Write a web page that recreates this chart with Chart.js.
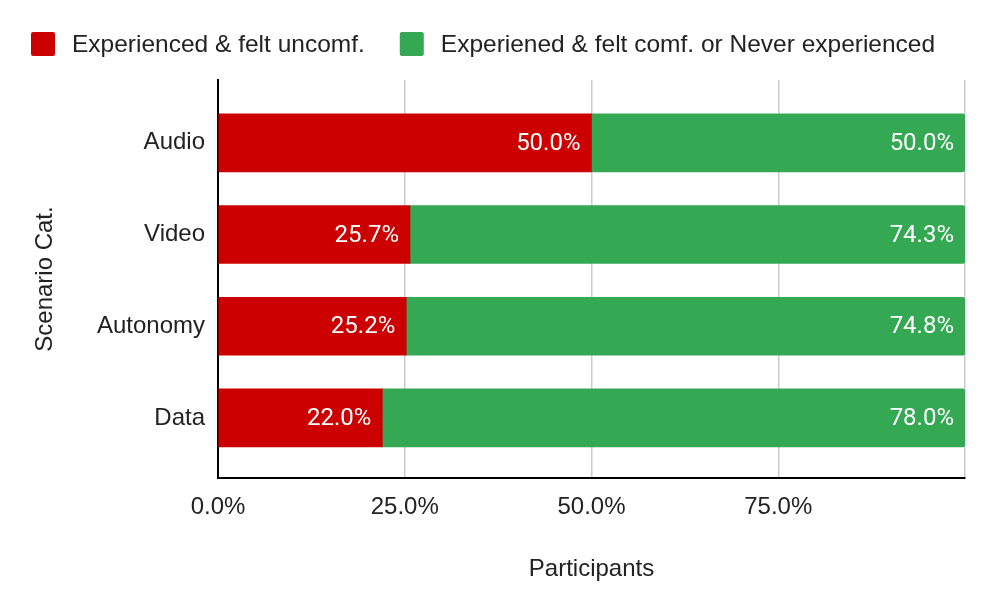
<!DOCTYPE html>
<html>
<head>
<meta charset="utf-8">
<script src="https://cdn.jsdelivr.net/npm/chart.js@4.4.1/dist/chart.umd.min.js"></script>
<style>
  html, body { margin: 0; padding: 0; background: #fff; }
  #wrap { width: 997px; height: 615px; position: relative; }
</style>
</head>
<body>
<div id="wrap"><canvas id="chart"></canvas></div>
<script>
// data
const categories = ['Audio', 'Video', 'Autonomy', 'Data'];
const uncomfValues = [50.0, 25.7, 25.2, 22.0];
const comfValues = [50.0, 74.3, 74.8, 78.0];
const seriesNames = ['Experienced & felt uncomf.', 'Experiened & felt comf. or Never experienced'];
const xTicks = [0, 25, 50, 75, 100];

const RED = '#cc0000';
const GREEN = '#34a853';
const TEXT = '#222222';

Chart.defaults.font.family = "'Liberation Sans', Arial, sans-serif";
Chart.defaults.font.size = 24;
Chart.defaults.color = TEXT;

// white value labels at the end of each bar segment
const barLabels = {
    id: 'barLabels',
    afterDatasetsDraw(chart) {
        const ctx = chart.ctx;
        ctx.save();
        ctx.font = "24px Roboto, 'Liberation Sans', sans-serif";
        ctx.fillStyle = '#ffffff';
        ctx.textAlign = 'right';
        ctx.textBaseline = 'middle';
        chart.data.datasets.forEach((ds, i) => {
            chart.getDatasetMeta(i).data.forEach((bar, j) => {
                ctx.fillText(ds.data[j].x.toFixed(1) + '%', bar.x - 11, bar.y + 1);
            });
        });
        ctx.restore();
    }
};

// legend drawn top-left like the sheets chart
const topLegend = {
    id: 'topLegend',
    afterDraw(chart) {
        const ctx = chart.ctx;
        ctx.save();
        ctx.font = "24.5px 'Liberation Sans', Arial, sans-serif";
        ctx.textBaseline = 'middle';
        ctx.textAlign = 'left';
        let x = 31;
        chart.data.datasets.forEach((ds) => {
            ctx.fillStyle = ds.backgroundColor;
            ctx.beginPath();
            ctx.roundRect(x, 32, 24, 24, 2);
            ctx.fill();
            ctx.fillStyle = TEXT;
            ctx.fillText(ds.label, x + 41, 45);
            x += 41 + ctx.measureText(ds.label).width + 35;
        });
        ctx.restore();
    }
};

new Chart(document.getElementById('chart'), {
    type: 'bar',
    data: {
        datasets: [
            {
                label: seriesNames[0],
                data: uncomfValues.map((v, i) => ({ x: v, y: i })),
                backgroundColor: RED,
                borderWidth: 0,
                barThickness: 58,
            },
            {
                label: seriesNames[1],
                data: comfValues.map((v, i) => ({ x: v, y: i })),
                backgroundColor: GREEN,
                borderWidth: 0,
                borderRadius: { topRight: 3, bottomRight: 3 },
                borderSkipped: false,
                barThickness: 58,
            },
        ],
    },
    options: {
        indexAxis: 'y',
        responsive: true,
        maintainAspectRatio: false,
        animation: false,
        layout: { padding: { top: 80, right: 32, left: 0, bottom: 0 } },
        plugins: {
            legend: { display: false },
            tooltip: { enabled: false },
        },
        scales: {
            x: {
                type: 'linear',
                stacked: true,
                min: 0,
                max: 100,
                afterBuildTicks: (scale) => {
                    scale.ticks = xTicks.map((v) => ({ value: v }));
                },
                afterFit: (scale) => {
                    scale.height = 137;
                },
                grid: { color: '#cccccc', lineWidth: 1.5, drawTicks: false },
                border: { color: '#000000', width: 2 },
                ticks: {
                    padding: 15,
                    maxRotation: 0,
                    autoSkip: false,
                    color: TEXT,
                    callback: (v) => (v === 100 ? '' : v.toFixed(1) + '%'),
                },
                title: {
                    display: true,
                    text: 'Participants',
                    color: TEXT,
                    padding: { top: 0, bottom: 31 },
                },
            },
            y: {
                type: 'linear',
                stacked: true,
                reverse: true,
                offset: false,
                min: -0.685,
                max: 3.655,
                afterBuildTicks: (scale) => {
                    scale.ticks = categories.map((c, i) => ({ value: i }));
                },
                afterFit: (scale) => {
                    scale.width = 218;
                },
                grid: { color: 'rgba(0,0,0,0)', drawTicks: false, offset: false },
                border: { color: '#000000', width: 2 },
                ticks: {
                    padding: 13,
                    color: TEXT,
                    callback: (v) => categories[v],
                },
                title: {
                    display: true,
                    text: 'Scenario Cat.',
                    color: TEXT,
                    padding: { top: 31, bottom: 0 },
                },
            },
        },
    },
    plugins: [barLabels, topLegend],
});
</script>
</body>
</html>
